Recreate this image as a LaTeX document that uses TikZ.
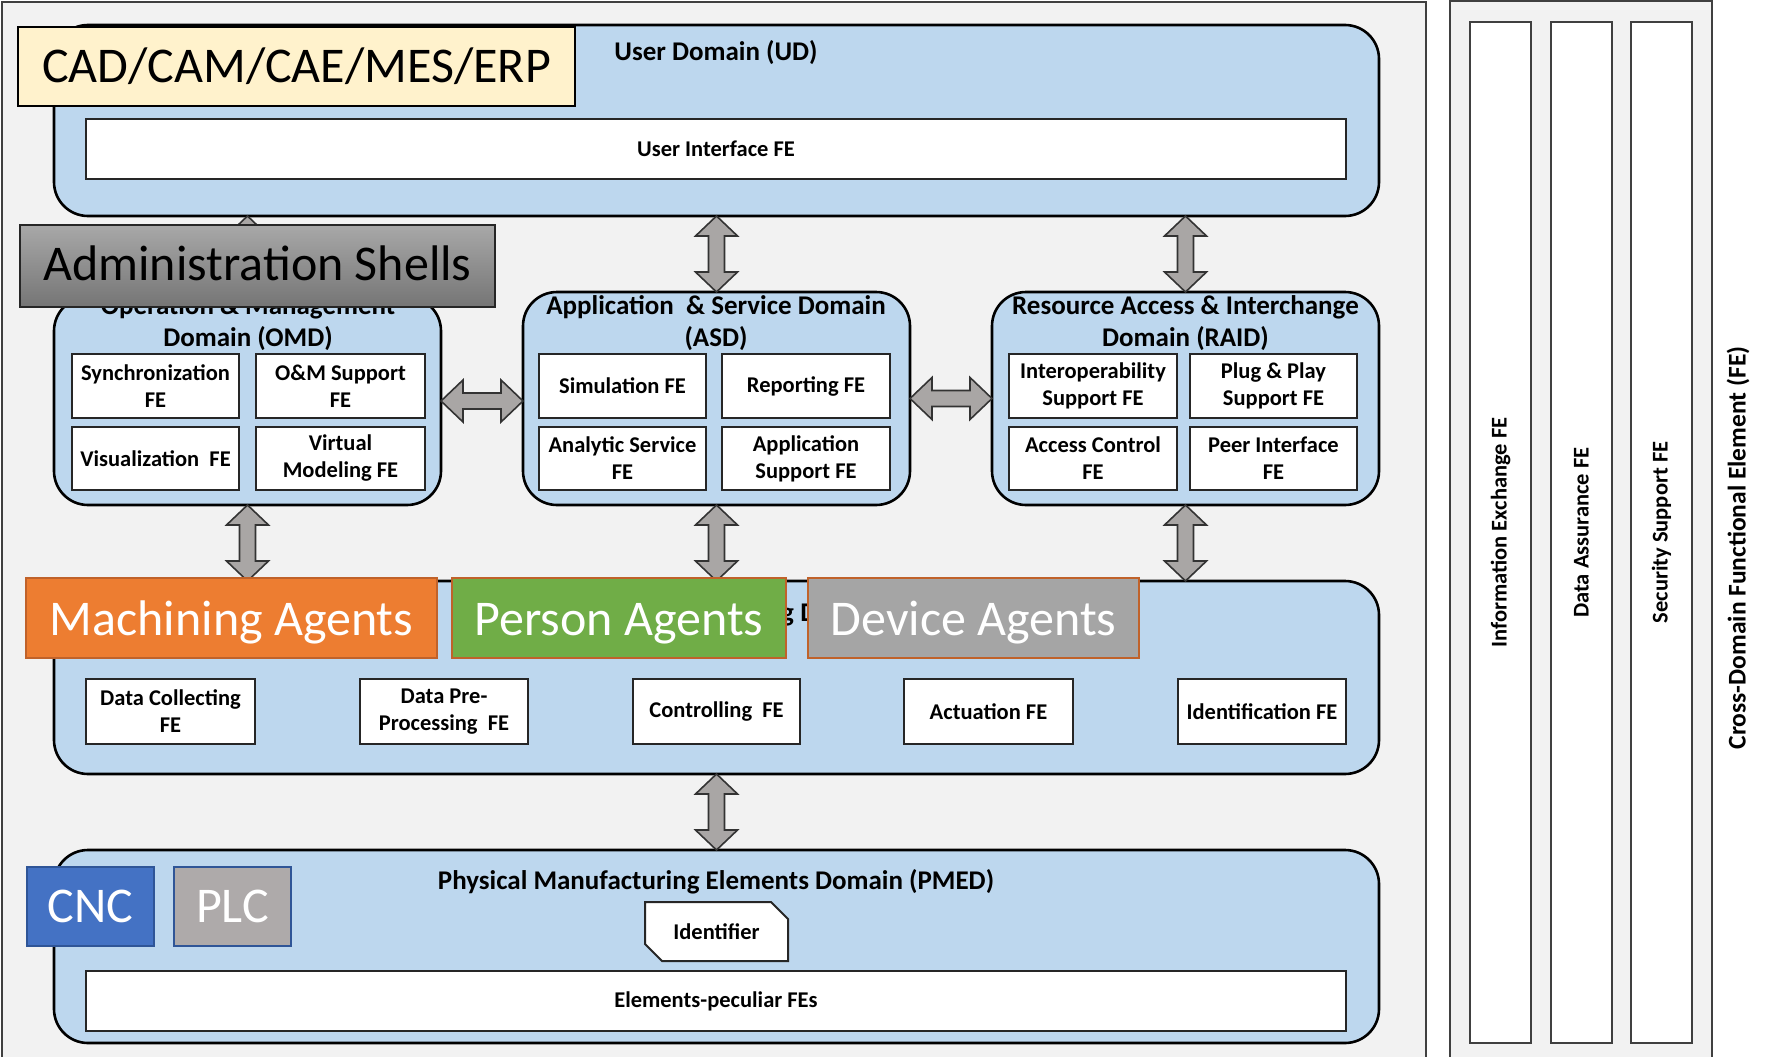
\documentclass[tikz,border=0pt]{standalone}
\usepackage{fontspec}
\setmainfont{Carlito}
\usetikzlibrary{calc,shapes.misc}

\definecolor{bgGrey}{HTML}{F2F2F2}
\definecolor{domainBlue}{HTML}{BDD7EE}
\definecolor{cadYellow}{HTML}{FFF2CC}
\definecolor{adminTop}{HTML}{A8A8A8}
\definecolor{adminBottom}{HTML}{757575}
\definecolor{agentOrange}{HTML}{ED7D31}
\definecolor{agentGreen}{HTML}{70AD47}
\definecolor{agentGrey}{HTML}{A5A5A5}
\definecolor{agentEdge}{HTML}{C0622A}
\definecolor{cncBlue}{HTML}{4472C4}
\definecolor{plcGrey}{HTML}{AEAAAA}
\definecolor{blueEdge}{HTML}{2F5597}
\definecolor{arrowGrey}{HTML}{A9A6A5}

\newcommand{\fefont}{\fontsize{22.5}{27}\selectfont\bfseries}
\newcommand{\ttlfont}{\fontsize{27}{31.5}\selectfont\bfseries}
\newcommand{\tagfont}{\fontsize{50}{60}\selectfont}
% label set on a baseline a fixed distance below the node centre
\newcommand{\agentlabel}[1]{\raisebox{-17pt}[0pt][0pt]{#1}}
\newcommand{\shelllabel}[1]{\raisebox{-14pt}[0pt][0pt]{#1}}

% rectangular node from its two corners: style, name, x1, y1, x2, y2, text
\newcommand{\boxat}[7]{%
  \node[#1, minimum width={#5-#3}, minimum height={#6-#4}] (#2)
    at ({(#3+#5)/2},{(#4+#6)/2}) {#7};}

% vertical double block arrow between two points (top, bottom)
\newcommand{\vblock}[2]{%
  \draw[blockarrow] let \p1=(#1), \p2=(#2) in
    (\x1,\y1) -- (\x1+21pt,\y1-20pt) -- (\x1+8pt,\y1-20pt)
    -- (\x1+8pt,\y2+20pt) -- (\x1+21pt,\y2+20pt) -- (\x1,\y2)
    -- (\x1-21pt,\y2+20pt) -- (\x1-8pt,\y2+20pt)
    -- (\x1-8pt,\y1-20pt) -- (\x1-21pt,\y1-20pt) -- cycle;}

% horizontal double block arrow between two points (left, right)
\newcommand{\hblock}[2]{%
  \draw[blockarrow] let \p1=(#1), \p2=(#2) in
    (\x1,\y1) -- (\x1+22pt,\y1+21pt) -- (\x1+22pt,\y1+8pt)
    -- (\x2-22pt,\y1+8pt) -- (\x2-22pt,\y1+21pt) -- (\x2,\y1)
    -- (\x2-22pt,\y1-21pt) -- (\x2-22pt,\y1-8pt)
    -- (\x1+22pt,\y1-8pt) -- (\x1+22pt,\y1-21pt) -- cycle;}

\begin{document}
\begin{tikzpicture}[x=1pt,y=-1pt,
  panel/.style={draw=black!75, line width=2pt, fill=bgGrey},
  fecolumn/.style={draw=black!75, line width=2.5pt, fill=white, inner sep=0pt,
    outer sep=0pt, font=\fefont},
  domainbox/.style={draw=black, line width=2.6pt, fill=domainBlue,
    rounded corners=34pt, inner sep=0pt, outer sep=0pt},
  fe/.style={draw=black!85, line width=2pt, fill=white, inner sep=0pt,
    outer sep=0pt, align=center, font=\fefont},
  domaintitle/.style={font=\ttlfont, align=center, inner sep=0pt},
  tagbox/.style={inner sep=0pt, outer sep=0pt, font=\tagfont},
  agentbox/.style={tagbox, draw=agentEdge, line width=1.5pt, text=white},
  blockarrow/.style={draw=black!80, line width=1.6pt, fill=arrowGrey,
    line join=miter}]

\useasboundingbox (0,0) rectangle (1775,1057);
\clip (0,0) rectangle (1775,1057);
\fill[white] (0,0) rectangle (1775,1057);

% the two frames
\draw[panel] (2,2) rectangle (1426,1080);
\draw[panel] (1450,1) rectangle (1712,1080);

% cross-domain functional elements
\node[fecolumn, rotate=90, minimum width=1021, minimum height=61] (ie)
  at (1500.5,532.5) {Information Exchange FE};
\node[fecolumn, rotate=90, minimum width=1021, minimum height=61] (da)
  at (1581.5,532.5) {Data Assurance FE};
\node[fecolumn, rotate=90, minimum width=1021, minimum height=61] (ss)
  at (1661.5,532.5) {Security Support FE};
\node[domaintitle, rotate=90, font=\fontsize{25.5}{30}\selectfont\bfseries] (cd)
  at (1738,548) {Cross-Domain Functional Element (FE)};

% user domain
\boxat{domainbox}{ud}{54}{25}{1379}{216}{}
\node[domaintitle] (udt) at (716,53) {User Domain (UD)};
\boxat{fe}{uife}{86}{119}{1346}{179}{User Interface FE}

% operation & management domain
\boxat{domainbox}{omd}{54}{297}{441}{505}{}
\node[domaintitle] (omdt) at (248,323) {Operation \& Management\\Domain (OMD)};
\boxat{fe}{sync}{72}{354}{239}{418}{Synchronization\\FE}
\boxat{fe}{oms}{256}{354}{425}{418}{O\&M Support\\FE}
\boxat{fe}{vis}{72}{427}{239}{490}{Visualization~ FE}
\boxat{fe}{vm}{256}{427}{425}{490}{Virtual\\Modeling FE}

% application & service domain
\boxat{domainbox}{asd}{523}{292}{910}{505}{}
\node[domaintitle] (asdt) at (716,323) {Application~ \& Service Domain\\(ASD)};
\boxat{fe}{sim}{539}{354}{706}{418}{Simulation FE}
\boxat{fe}{rep}{722}{354}{890}{418}{Reporting FE}
\boxat{fe}{ana}{539}{427}{706}{490}{Analytic Service\\FE}
\boxat{fe}{aps}{722}{427}{890}{490}{Application\\Support FE}

% resource access & interchange domain
\boxat{domainbox}{raid}{992}{292}{1379}{505}{}
\node[domaintitle] (raidt) at (1185.5,323) {Resource Access \& Interchange\\Domain (RAID)};
\boxat{fe}{ios}{1009}{354}{1177}{418}{Interoperability\\Support FE}
\boxat{fe}{pnp}{1190}{354}{1357}{418}{Plug \& Play\\Support FE}
\boxat{fe}{acc}{1009}{427}{1177}{490}{Access Control\\FE}
\boxat{fe}{peer}{1190}{427}{1357}{490}{Peer Interface\\FE}

% sensing & controlling domain
\boxat{domainbox}{scd}{54}{581}{1379}{774}{}
\node[domaintitle, anchor=base east] (scdta) at (794,621) {Sensing \& Controlling};
\node[domaintitle, anchor=base west] (scdtb) at (scdta.base east) {\ Domain (SCD)};
\boxat{fe}{dcol}{86}{679}{255}{744}{Data Collecting\\FE}
\boxat{fe}{dpre}{360}{679}{528}{744}{Data Pre-\\Processing~ FE}
\boxat{fe}{ctrl}{633}{679}{800}{744}{Controlling~ FE}
\boxat{fe}{act}{904}{679}{1073}{744}{Actuation FE}
\boxat{fe}{idf}{1178}{679}{1346}{744}{Identification FE}

% physical manufacturing elements domain
\boxat{domainbox}{pmed}{54}{850}{1379}{1043}{}
\node[domaintitle] (pmedt) at (716,882) {Physical Manufacturing Elements Domain (PMED)};
\node[fe, chamfered rectangle, chamfered rectangle corners={north east,south west},
  chamfered rectangle xsep=9pt, chamfered rectangle ysep=9pt,
  minimum width=143, minimum height=59] (ident) at (716.5,931.5) {Identifier};
\boxat{fe}{epfe}{86}{971}{1346}{1031}{Elements-peculiar FEs}

% interactions between domains
\vblock{ud.south -| omd.north}{omd.north}
\vblock{ud.south -| asd.north}{asd.north}
\vblock{ud.south -| raid.north}{raid.north}
\hblock{omd.east}{asd.west |- omd.east}
\hblock{asd.east}{raid.west |- asd.east}
\vblock{omd.south}{omd.south |- scd.north}
\vblock{asd.south}{asd.south |- scd.north}
\vblock{raid.south}{raid.south |- scd.north}
\vblock{scd.south}{scd.south |- pmed.north}

% system and agent tags
\boxat{tagbox, draw=black, line width=2pt, fill=cadYellow}{cad}{18}{27}{575}{106}{CAD/CAM/CAE/MES/ERP}
\boxat{tagbox, draw=black!85, line width=2pt, top color=adminTop, bottom color=adminBottom}{admin}{20}{225}{495}{307}{\shelllabel{Administration Shells}}
\boxat{agentbox, fill=agentOrange}{mach}{26}{578}{437}{658}{\agentlabel{Machining Agents}}
\boxat{agentbox, fill=agentGreen}{pers}{452}{578}{786}{658}{\agentlabel{Person Agents}}
\boxat{agentbox, fill=agentGrey}{dev}{808}{578}{1139}{658}{\agentlabel{Device Agents}}
\boxat{tagbox, draw=blueEdge, line width=1.5pt, fill=cncBlue, text=white}{cnc}{27}{867}{154}{946}{CNC}
\boxat{tagbox, draw=blueEdge, line width=1.5pt, fill=plcGrey, text=white}{plc}{174}{867}{291}{946}{PLC}

\end{tikzpicture}
\end{document}
